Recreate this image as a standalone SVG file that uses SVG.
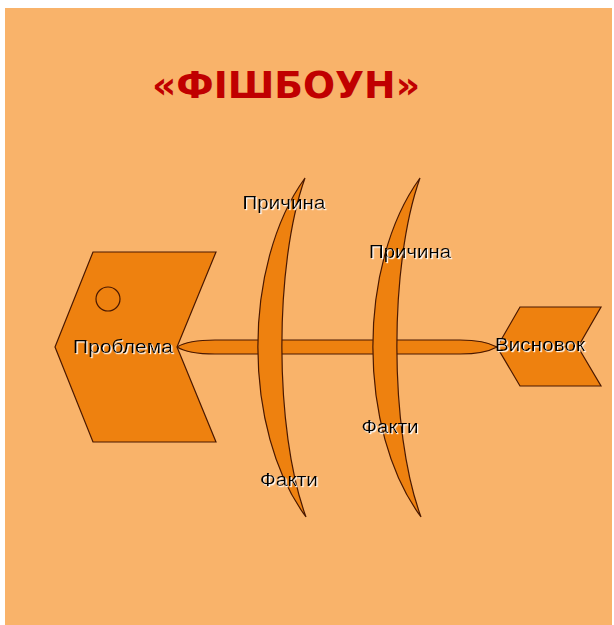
<svg xmlns="http://www.w3.org/2000/svg" width="614" height="625" viewBox="0 0 614 625">
<defs>
<style>
.shape{fill:#EE810F;stroke:#4A1800;stroke-width:1.2;stroke-linejoin:miter}
.lbl{font-family:"Liberation Sans",Arial,sans-serif;font-size:18px;fill:#000;text-anchor:middle;filter:url(#glow)}
.title{font-family:"DejaVu Sans","Liberation Sans",sans-serif;font-weight:bold;font-size:38px;fill:#C00000;text-anchor:middle}
</style>
<filter id="glow" x="-10%" y="-30%" width="120%" height="160%">
<feDropShadow dx="1.2" dy="1.2" stdDeviation="0.5" flood-color="#FFFFFF" flood-opacity="1"/>
</filter>
</defs>
<rect x="0" y="0" width="614" height="625" fill="#FFFFFF"/>
<rect x="5" y="8" width="607" height="617" fill="#F9B36A"/>
<g id="title">
<text class="title" x="286" y="98" textLength="268" lengthAdjust="spacingAndGlyphs">«ФІШБОУН»</text>
</g>
<g id="connectors">
<path id="spine" class="shape" d="M177,347 C185,342 195,340 215,340 L460,340 C478,340 488,342 497,347 C488,352 478,354 460,354 L215,354 C195,354 185,352 177,347 Z"/>
<path id="bone1" class="shape" d="M305,178 C242,265 242,430 306,517 C274,430 274,265 305,178 Z"/>
<path id="bone2" class="shape" d="M420,178 C357,265 357,430 421,517 C389,430 389,265 420,178 Z"/>
</g>
<g id="head">
<polygon class="shape" points="93,252 216,252 177,347 216,442 93,442 55,347"/>
<circle class="shape" cx="108" cy="299" r="12"/>
<text class="lbl" x="123" y="353" textLength="100" lengthAdjust="spacingAndGlyphs">Проблема</text>
</g>
<g id="tail">
<polygon class="shape" points="520,307 601,307 578,347 601,386 520,386 497,347"/>
<text class="lbl" x="540" y="351" textLength="90" lengthAdjust="spacingAndGlyphs">Висновок</text>
</g>
<g id="cause1">
<text class="lbl" x="284" y="209" textLength="83" lengthAdjust="spacingAndGlyphs">Причина</text>
</g>
<g id="cause2">
<text class="lbl" x="410" y="258" textLength="82" lengthAdjust="spacingAndGlyphs">Причина</text>
</g>
<g id="facts1">
<text class="lbl" x="289" y="486" textLength="58" lengthAdjust="spacingAndGlyphs">Факти</text>
</g>
<g id="facts2">
<text class="lbl" x="390" y="433" textLength="57" lengthAdjust="spacingAndGlyphs">Факти</text>
</g>
</svg>
